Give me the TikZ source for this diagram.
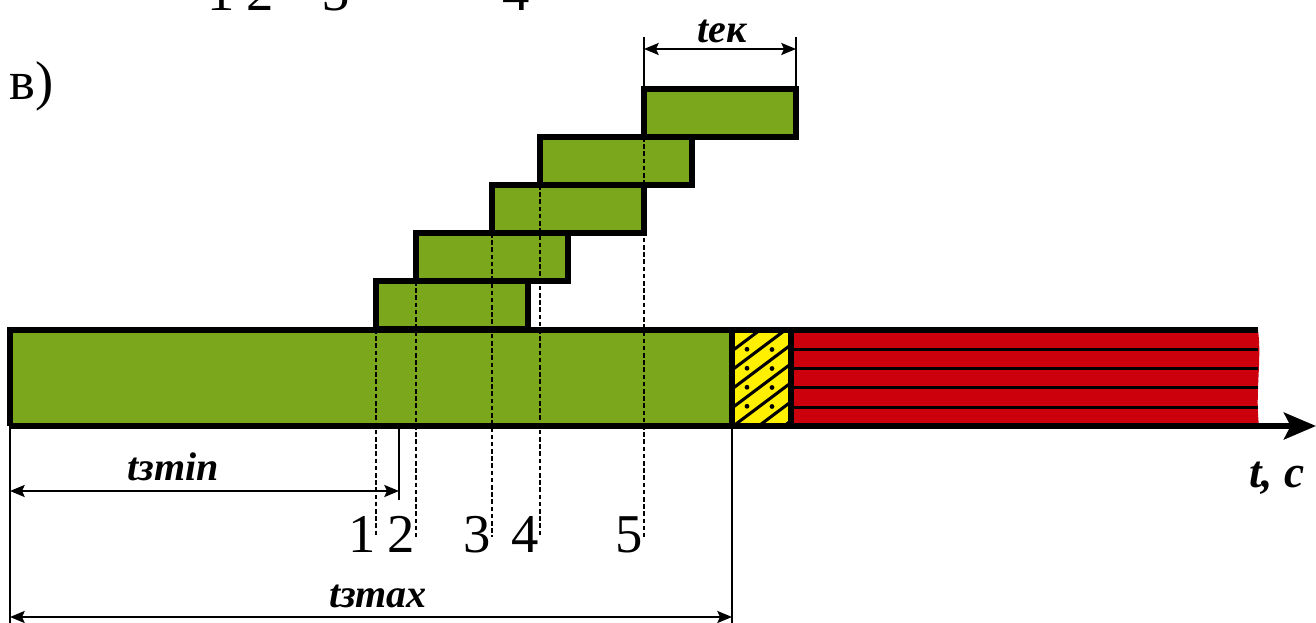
\documentclass[tikz,border=0pt]{standalone}
\usepackage{fontspec}
\setmainfont{Liberation Serif}
\usetikzlibrary{arrows.meta}
\definecolor{barGreen}{RGB}{123,167,28}
\definecolor{zoneRed}{RGB}{204,0,12}
\definecolor{zoneYellow}{RGB}{255,240,0}

\tikzset{every picture/.style={line width=0.75pt}}

\begin{document}
\begin{tikzpicture}[x=0.75pt,y=0.75pt,yscale=-1,
  stagebar/.style={draw, fill=barGreen, line width=4.4pt, inner sep=0pt, outer sep=0pt, minimum width=114pt, minimum height=36pt, anchor=north west},
  guide/.style={dash pattern=on 3.4pt off 2pt, line width=1.5pt},
  extline/.style={line width=1.6pt},
  dimline/.style={line width=1.6pt, {Stealth[length=11pt,width=9pt,inset=2pt]}-{Stealth[length=11pt,width=9pt,inset=2pt]}},
  numlbl/.style={font=\fontsize{41}{41}\selectfont, anchor=base, inner sep=0pt},
  timelbl/.style={font=\fontsize{30}{30}\selectfont\bfseries\itshape, anchor=base, inner sep=0pt}]
\useasboundingbox (0,0) rectangle (1316,623);
\clip (0,0) rectangle (1316,623);

% Text Node (cut off above)
\node[numlbl] (up1) at (221,11) {1};
\node[numlbl] (up2) at (260,11) {2};
\node[numlbl] (up3) at (336,11) {3};
\node[numlbl] (up4) at (516,11) {4};
% Text Node
\node[font=\fontsize{41}{41}\selectfont, anchor=base west, inner sep=0pt] (part) at (9,100) {в)};

%Shape: Rectangle
\fill[barGreen] (10,330) rectangle (732,426);
%Shape: Rectangle
\fill[zoneYellow] (732,330) rectangle (791,426);
\begin{scope}
\clip (732,330) rectangle (791,426);
\foreach \b in {332,351,...,484} {
  \draw[line width=2.3pt] (732,\b) -- (792,\b-45);
  \fill (747,\b+9.5-11.25) circle (2.4);
  \fill (772,\b+9.5-30) circle (2.4);
}
\end{scope}
%Shape: Polygon
\fill[zoneRed] (791,330) -- (1258,330) .. controls (1262,360) and (1255,392) .. (1259,426) -- (791,426) -- cycle;
\foreach \yy in {349.3,368.6,387.9,407.2}
  \draw[line width=2.3pt] (791,\yy) -- (1258,\yy);
%Straight Lines
\draw[line width=4.4pt] (10,426) -- (10,330) -- (1258,330) (732,330) -- (732,426) (791,330) -- (791,426);

%Shape: Steps
\node[stagebar] (st1) at (376,281) {};
\node[stagebar] (st2) at (416,233) {};
\node[stagebar] (st3) at (492,185) {};
\node[stagebar] (st4) at (540,137) {};
\node[stagebar] (st5) at (644,89) {};

% Axis
\coordinate (origin) at (10,426);
\coordinate (axisend) at (1316,426);
\draw[line width=4.4pt, -{Stealth[length=24pt,width=20pt,inset=5pt]}] (origin) -- (axisend);
% Text Node
\node[font=\fontsize{34}{34}\selectfont\bfseries\itshape, anchor=base, inner sep=0pt] (tc) at (1277,487) {t, с};

% Dashed guides
\coordinate (gbot) at (0,537);
\foreach \i in {1,...,5}
  \draw[guide] (st\i.south west) -- (st\i.south west |- gbot);
% Text Node
\node[numlbl] (n1) at (362,552) {1};
\node[numlbl] (n2) at (401,552) {2};
\node[numlbl] (n3) at (477,552) {3};
\node[numlbl] (n4) at (525,552) {4};
\node[numlbl] (n5) at (629,552) {5};

% t_ek
\coordinate (ektop) at (0,37);
\coordinate (ekarrow) at (0,49);
\draw[extline] (st5.north west) -- (st5.north west |- ektop) (st5.north east) -- (st5.north east |- ektop);
\draw[dimline] (st5.north west |- ekarrow) -- (st5.north east |- ekarrow);
\node[timelbl] (tek) at (722,43) {tек};

% t_zmin
\coordinate (minend) at (399,426);
\draw[extline] (minend) -- (399,500);
\draw[dimline] (10,491) -- (399,491);
\node[timelbl] (tmin) at (173,480) {tзmin};

% t_zmax
\coordinate (maxend) at (732,426);
\draw[extline] (maxend) -- (732,623);
\draw[line width=2.2pt] (origin) -- (10,623);
\draw[dimline] (10,617) -- (732,617);
\node[timelbl] (tmax) at (378,607) {tзmax};
\end{tikzpicture}
\end{document}
